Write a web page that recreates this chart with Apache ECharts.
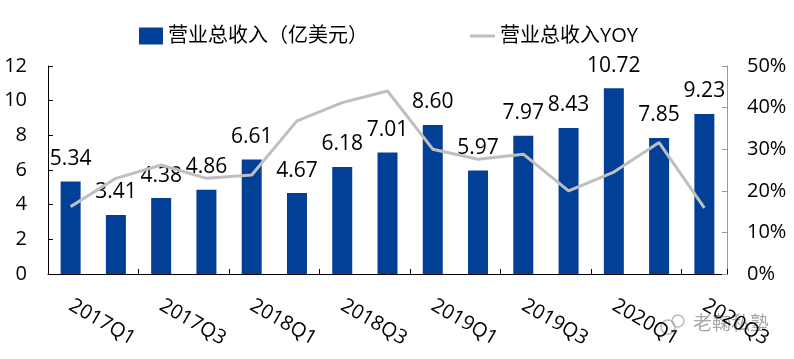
<!DOCTYPE html>
<html><head><meta charset="utf-8">
<script src="https://cdn.jsdelivr.net/npm/echarts@6/dist/echarts.min.js"></script>
<style>html,body{margin:0;padding:0;background:#fff}#c{width:794px;height:359px}</style>
</head><body><div id="c"></div>
<script>
const categories = ['2017Q1','2017Q2','2017Q3','2017Q4','2018Q1','2018Q2','2018Q3','2018Q4','2019Q1','2019Q2','2019Q3','2019Q4','2020Q1','2020Q2','2020Q3'];
const revenue = [5.34,3.41,4.38,4.86,6.61,4.67,6.18,7.01,8.60,5.97,7.97,8.43,10.72,7.85,9.23];
const yoy = [16.2,23.0,26.2,23.0,23.8,36.8,41.2,44.0,30.0,27.6,28.8,20.0,24.5,31.6,15.9];
const leftTicks = {min:0,max:12,interval:2};
const rightTicks = {min:0,max:50,interval:10};
const nameBar = '营业总收入（亿美元）';
const nameLine = '营业总收入YOY';
const FONT = '"Open Sans","Noto Sans CJK SC",sans-serif';
const chart = echarts.init(document.getElementById('c'));
chart.setOption({
  animation:false,
  textStyle:{fontFamily:FONT},
  legend:[
    {top:21,left:134,itemWidth:24,itemHeight:17,
     textStyle:{fontSize:20,color:'#000',fontFamily:FONT},
     data:[{name:nameBar,icon:'rect'}]},
    {top:21,left:465,itemWidth:25,itemHeight:17,
     textStyle:{fontSize:20,color:'#000',fontFamily:FONT},
     data:[{name:nameLine,icon:'path://M0,0H25V3H0Z'}]}
  ],
  grid:{left:48,right:67,top:66,bottom:85},
  xAxis:{
    type:'category',data:categories,
    axisLine:{lineStyle:{color:'#000',width:1}},
    axisTick:{show:true,inside:true,length:5,lineStyle:{color:'#000'}},
    axisLabel:{interval:1,rotate:-30,margin:30,fontSize:20,color:'#000',fontFamily:FONT}
  },
  yAxis:[
    {type:'value',min:leftTicks.min,max:leftTicks.max,interval:leftTicks.interval,
     axisLine:{show:true,lineStyle:{color:'#000'}},
     axisTick:{show:true,inside:true,length:5,lineStyle:{color:'#000'}},
     splitLine:{show:false},
     axisLabel:{fontSize:20,color:'#000',margin:21,fontFamily:FONT}},
    {type:'value',min:rightTicks.min,max:rightTicks.max,interval:rightTicks.interval,
     axisLine:{show:true,lineStyle:{color:'#999'}},
     axisTick:{show:true,inside:true,length:5,lineStyle:{color:'#999'}},
     splitLine:{show:false},
     axisLabel:{fontSize:20,color:'#000',margin:20,formatter:'{value}%',fontFamily:FONT}}
  ],
  series:[
    {name:nameBar,type:'bar',data:revenue,barWidth:20,itemStyle:{color:'#024098'},
     label:{show:true,position:'top',distance:12,fontSize:21,color:'#000',fontFamily:FONT,formatter:p=>p.value.toFixed(2)}},
    {name:nameLine,type:'line',yAxisIndex:1,data:yoy,symbol:'none',smooth:false,
     itemStyle:{color:'#BFBFBF'},lineStyle:{color:'#BFBFBF',width:3}}
  ],
  graphic:[
    {type:'circle',shape:{cx:668,cy:327,r:7},style:{fill:'none',stroke:'rgba(170,170,170,0.8)',lineWidth:1.5}},
    {type:'circle',shape:{cx:678,cy:321,r:6},style:{fill:'none',stroke:'rgba(170,170,170,0.8)',lineWidth:1.5}},
    {type:'text',left:693,top:313,style:{text:'老鞠私塾',fontSize:19,fill:'rgba(150,150,150,0.85)',fontFamily:'"Noto Sans CJK SC",sans-serif'}}
  ]
});
</script></body></html>
